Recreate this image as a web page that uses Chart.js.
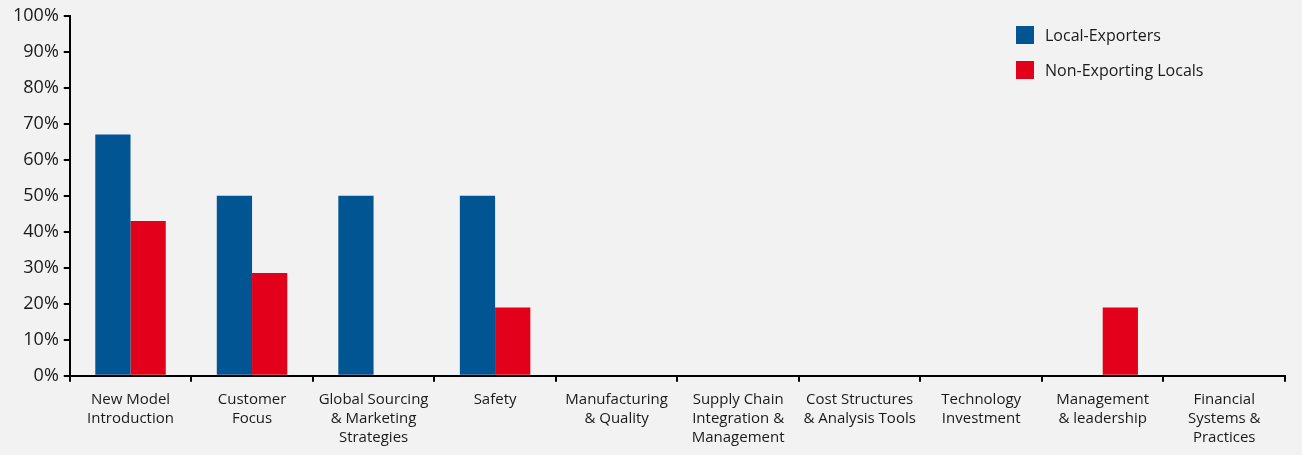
<!DOCTYPE html>
<html lang="en">
<head>
    <meta charset="UTF-8">
    <title>Local-Exporters vs Non-Exporting Locals</title>
    <script src="https://cdn.jsdelivr.net/npm/chart.js@4.4.0/dist/chart.umd.min.js"></script>
    <style>
        html, body {
            margin: 0;
            padding: 0;
            background-color: #f2f2f2;
        }
        .wrap {
            position: relative;
            width: 1302px;
            height: 455px;
        }
        .legend {
            position: absolute;
            left: 1016px;
            top: 25px;
            font-family: "Open Sans", sans-serif;
            font-size: 16px;
            color: #1a1a1a;
        }
        .legend div {
            display: flex;
            align-items: center;
            height: 19px;
            margin-bottom: 16px;
        }
        .legend span.box {
            display: inline-block;
            width: 18px;
            height: 18px;
            margin-right: 11px;
        }
    </style>
</head>
<body>
    <div class="wrap">
        <canvas id="chart" width="1302" height="455"></canvas>
        <div class="legend" id="legend"></div>
    </div>

    <script>
        const categories = [
            ['New Model', 'Introduction'],
            ['Customer', 'Focus'],
            ['Global Sourcing', '& Marketing', 'Strategies'],
            ['Safety'],
            ['Manufacturing', '& Quality'],
            ['Supply Chain', 'Integration &', 'Management'],
            ['Cost Structures', '& Analysis Tools'],
            ['Technology', 'Investment'],
            ['Management', '& leadership'],
            ['Financial', 'Systems &', 'Practices']
        ];
        const localExporters = [67, 50, 50, 50, 0, 0, 0, 0, 0, 0];
        const nonExportingLocals = [43, 28.6, 0, 19, 0, 0, 0, 0, 19, 0];
        const seriesNames = ['Local-Exporters', 'Non-Exporting Locals'];
        const seriesColors = ['#005592', '#e2001a'];

        // legend as plain html, sits inside the plot at top right
        const legendEl = document.getElementById('legend');
        seriesNames.forEach((name, i) => {
            const row = document.createElement('div');
            row.innerHTML = '<span class="box" style="background:' + seriesColors[i] + '"></span>' + name;
            legendEl.appendChild(row);
        });

        Chart.defaults.font.family = '"Open Sans", sans-serif';
        Chart.defaults.color = '#1a1a1a';

        const ctx = document.getElementById('chart').getContext('2d');
        new Chart(ctx, {
            type: 'bar',
            data: {
                labels: categories,
                datasets: [
                    {
                        label: seriesNames[0],
                        data: localExporters,
                        backgroundColor: seriesColors[0]
                    },
                    {
                        label: seriesNames[1],
                        data: nonExportingLocals,
                        backgroundColor: seriesColors[1]
                    }
                ]
            },
            options: {
                responsive: false,
                animation: false,
                layout: {
                    padding: { top: 14, right: 17, bottom: 0, left: 8 }
                },
                datasets: {
                    bar: {
                        categoryPercentage: 0.58,
                        barPercentage: 1.0
                    }
                },
                plugins: {
                    legend: { display: false },
                    tooltip: { enabled: false }
                },
                scales: {
                    x: {
                        grid: {
                            offset: true,
                            drawOnChartArea: false,
                            drawTicks: true,
                            tickLength: 6,
                            color: '#000',
                            lineWidth: 2
                        },
                        border: { display: true, color: '#000', width: 2 },
                        ticks: {
                            font: { size: 15, lineHeight: 1.27 },
                            padding: 8,
                            maxRotation: 0,
                            autoSkip: false
                        }
                    },
                    y: {
                        min: 0,
                        max: 100,
                        grid: {
                            drawOnChartArea: false,
                            drawTicks: true,
                            tickLength: 6,
                            color: '#000',
                            lineWidth: 2
                        },
                        border: { display: true, color: '#000', width: 2 },
                        ticks: {
                            stepSize: 10,
                            font: { size: 18 },
                            padding: 5,
                            callback: v => v + '%'
                        }
                    }
                }
            }
        });
    </script>
</body>
</html>
